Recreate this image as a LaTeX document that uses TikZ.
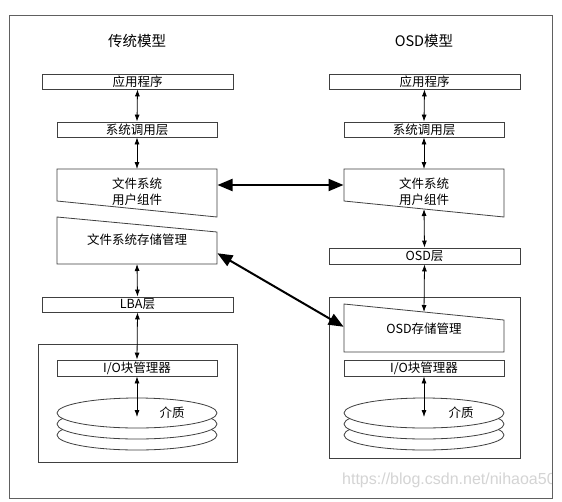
\documentclass[tikz,border=0pt]{standalone}
\usepackage{fontspec}
\setmainfont{Noto Sans CJK SC}
\newfontfamily\wmfont{Liberation Sans}
\usetikzlibrary{arrows.meta}
\definecolor{boxc}{HTML}{404040}
\definecolor{framec}{HTML}{606060}
\definecolor{wmc}{HTML}{D4D4D4}
\tikzset{
  lbl/.style={inner sep=0pt, font=\fontsize{12.5}{16}\selectfont, align=center},
  ttl/.style={inner sep=0pt, font=\fontsize{14.5}{18}\selectfont},
  box/.style={draw=boxc, line width=0.8pt, inner sep=0pt, minimum height=15pt, fill=white, font=\fontsize{12.5}{16}\selectfont},
  wide/.style={box, minimum width=191pt},
  narrow/.style={box, minimum width=160pt},
  shp/.style={draw=boxc, line width=0.8pt, fill=white},
  disk/.style={draw=boxc, line width=0.8pt, fill=white},
  arr/.style={arrows={Latex[length=7pt,width=5pt]-Latex[length=7pt,width=5pt]}, line width=0.8pt, black},
  bigarr/.style={arrows={Triangle[length=15pt,width=12pt]-Triangle[length=15pt,width=12pt]}, line width=2pt, black, shorten <=0.5pt, shorten >=0.5pt}
}
\begin{document}
\begin{tikzpicture}[x=1pt,y=-1pt]
\useasboundingbox (0,0) rectangle (562,501);
\fill[white] (0,0) rectangle (562,501);
\draw[framec, line width=0.8pt] (9,15) rectangle (552,498);

% ---------- left: traditional model ----------
\node[ttl] (t1) at (137,41) {传统模型};
\node[wide] (app1) at (137.5,81.5) {应用程序};
\node[narrow] (sys1) at (137,129.5) {系统调用层};
\draw[shp] (57,169) -- (217,169) -- (217,217) -- (57,201) -- cycle;
\node[lbl] (fsu1) at (137,192) {文件系统\\用户组件};
\coordinate (fsu1top) at (137,169);
\coordinate (fsu1r) at (217,185);
\draw[shp] (57,217) -- (217,232) -- (217,264) -- (57,264) -- cycle;
\node[lbl] (fsm1) at (137,240) {文件系统存储管理};
\coordinate (fsm1bot) at (137,264);
\coordinate (fsm1r) at (217,253);
\node[wide] (lba1) at (137.5,304.5) {LBA层};
\draw[shp, fill=none] (38,344) rectangle (237,462);
\node[narrow, minimum height=16pt] (io1) at (137,368) {I/O块管理器};
\draw[disk] (137,435) ellipse [x radius=80, y radius=15];
\draw[disk] (137,424) ellipse [x radius=80, y radius=15];
\draw[disk] (137,413) ellipse [x radius=80, y radius=15];
\node[lbl] (med1) at (172,413) {介质};
\coordinate (d1) at (137,417);

\draw[arr] (app1.south) -- (sys1.north);
\draw[arr] (sys1.south) -- (fsu1top);
\draw[arr] (fsm1bot) -- (lba1.north);
\draw[arr] (lba1.south) -- (io1.north);
\draw[arr] (io1.south) -- (d1);

% ---------- right: OSD model ----------
\node[ttl] (t2) at (424,41) {OSD模型};
\node[wide] (app2) at (424.5,81.5) {应用程序};
\node[narrow] (sys2) at (424,129.5) {系统调用层};
\draw[shp] (344,169) -- (504,169) -- (504,217) -- (344,201) -- cycle;
\node[lbl] (fsu2) at (424,192) {文件系统\\用户组件};
\coordinate (fsu2top) at (424,169);
\coordinate (fsu2bot) at (424,209);
\coordinate (fsu2l) at (344,185);
\node[wide, minimum height=16pt] (osd2) at (424.5,256) {OSD层};
\draw[shp, fill=none] (329,297) rectangle (520,458);
\draw[shp] (344,304) -- (504,320) -- (504,352) -- (344,352) -- cycle;
\node[lbl] (osm2) at (424,329) {OSD存储管理};
\coordinate (osm2top) at (424,312);
\coordinate (osm2l) at (344,327);
\node[narrow, minimum height=16pt] (io2) at (424,368) {I/O块管理器};
\draw[disk] (424,435) ellipse [x radius=80, y radius=15];
\draw[disk] (424,424) ellipse [x radius=80, y radius=15];
\draw[disk] (424,413) ellipse [x radius=80, y radius=15];
\node[lbl] (med2) at (461,413) {介质};
\coordinate (d2) at (424,417);

\draw[arr] (app2.south) -- (sys2.north);
\draw[arr] (sys2.south) -- (fsu2top);
\draw[arr] (fsu2bot) -- (osd2.north);
\draw[arr] (osd2.south) -- (osm2top);
\draw[arr] (io2.south) -- (d2);

% ---------- cross arrows ----------
\draw[bigarr] (fsu1r) -- (fsu2l);
\draw[bigarr] (fsm1r) -- (osm2l);

% ---------- watermark ----------
\begin{scope}
\clip (9,15) rectangle (551.5,498);
\node[inner sep=0pt, anchor=west, text=wmc, font=\wmfont\fontsize{16}{18}\selectfont] (wm) at (342,480) {https://blog.csdn.net/nihaoa50};
\end{scope}
\end{tikzpicture}
\end{document}
